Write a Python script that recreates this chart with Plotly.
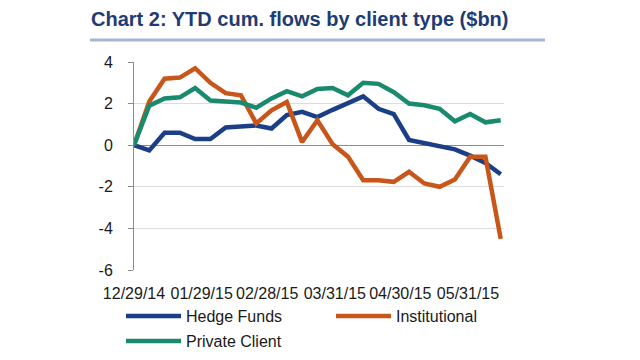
import plotly.graph_objects as go
import pandas as pd

dates = pd.date_range("2014-12-29", periods=25, freq="7D")

hedge_funds = [0, -0.25, 0.6, 0.6, 0.3, 0.3, 0.85, 0.9, 0.95, 0.8, 1.45, 1.6, 1.35,
               1.7, 2.0, 2.35, 1.75, 1.5, 0.25, 0.1, -0.1, -0.2, -0.5, -0.85, -1.4]
institutional = [0, 2.1, 3.2, 3.25, 3.7, 3.0, 2.5, 2.4, 1.05, 1.68, 2.08, 0.15, 1.2,
                 0.05, -0.55, -1.68, -1.68, -1.76, -1.28, -1.84, -2.0, -1.65, -0.56, -0.56, -4.5]
private_client = [0, 1.9, 2.25, 2.3, 2.75, 2.15, 2.1, 2.05, 1.8, 2.25, 2.6, 2.35, 2.7,
                  2.75, 2.4, 3.0, 2.95, 2.55, 2.0, 1.92, 1.75, 1.15, 1.5, 1.1, 1.2]

tick_dates = ["2014-12-29", "2015-01-29", "2015-02-28", "2015-03-31", "2015-04-30", "2015-05-31"]
tick_labels = ["12/29/14", "01/29/15", "02/28/15", "03/31/15", "04/30/15", "05/31/15"]

y_tick_vals = [-6, -4, -2, 0, 2, 4]
y_tick_labels = ["-6", "-4", "-2", "0", "2", "4"]

series = [
    ("Hedge Funds", hedge_funds, "#1a3f87", "legend"),
    ("Institutional", institutional, "#c8561b", "legend"),
    ("Private Client", private_client, "#1a8a6e", "legend2"),
]

FONT = "Liberation Sans, Arial, sans-serif"
xr = ["2014-12-29", "2015-06-16 12:00"]

fig = go.Figure()
for name, vals, color, lg in series:
    fig.add_trace(go.Scatter(x=dates, y=vals, name=name, mode="lines",
                             line=dict(color=color, width=4.5), legend=lg))

fig.update_layout(
    width=640, height=360,
    margin=dict(l=134, r=136, t=62, b=90, autoexpand=False),
    paper_bgcolor="white", plot_bgcolor="white",
    font=dict(family=FONT, size=16, color="#1a1a1a"),
    title=dict(text="<b>Chart 2: YTD cum. flows by client type ($bn)</b>",
               x=91/640, xref="container", xanchor="left",
               y=1-19/360, yref="container", yanchor="middle",
               font=dict(family=FONT, size=20, color="#1f3b73")),
    xaxis=dict(type="date", range=xr, tickvals=tick_dates, ticktext=tick_labels,
               showgrid=False, zeroline=False, showline=False,
               ticks="", anchor="y", side="bottom", ticklabelstandoff=12,
               tickfont=dict(size=16)),
    xaxis2=dict(type="date", range=xr, tickvals=tick_dates, overlaying="x",
                anchor="free", position=0.6, showticklabels=False,
                ticks="outside", ticklen=5, tickcolor="#8c8c8c",
                showgrid=False, zeroline=False, showline=False, matches="x"),
    yaxis=dict(range=[-6, 4], tickvals=y_tick_vals, ticktext=y_tick_labels,
               showgrid=True, gridcolor="#dcdcdc", gridwidth=1,
               zeroline=True, zerolinecolor="#8c8c8c", zerolinewidth=1,
               showline=True, linecolor="#8c8c8c", linewidth=1,
               ticks="outside", ticklen=5, tickcolor="#8c8c8c",
               ticklabelstandoff=12, tickfont=dict(size=16)),
    legend=dict(orientation="h", x=(121-134)/370, xanchor="left",
                y=-(316-270)/208, yanchor="middle", entrywidth=140,
                itemwidth=55, font=dict(size=16), bgcolor="rgba(0,0,0,0)"),
    legend2=dict(orientation="h", x=(121-134)/370, xanchor="left",
                 y=-(341-270)/208, yanchor="middle", entrywidth=140,
                 itemwidth=55, font=dict(size=16), bgcolor="rgba(0,0,0,0)"),
    showlegend=True,
)

fig.add_shape(type="line", xref="paper", yref="paper",
              x0=(90-134)/370, x1=(545-134)/370, y0=(270-40)/208, y1=(270-40)/208,
              line=dict(color="#a3b5d3", width=3))

fig.write_html("out.html", config={"displayModeBar": False},
               post_script="document.body.style.margin='0';")
